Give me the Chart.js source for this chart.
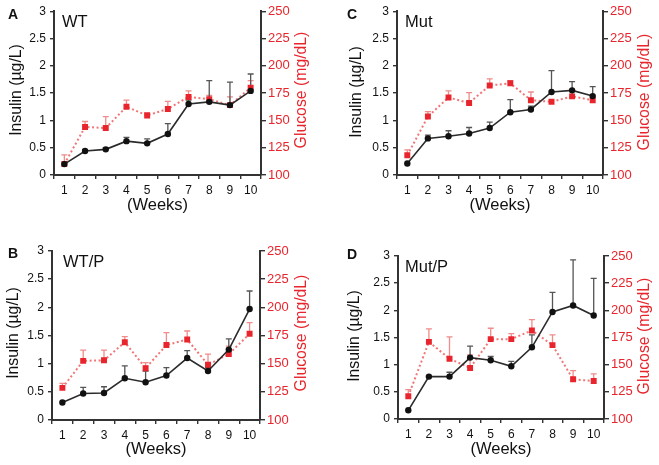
<!DOCTYPE html>
<html>
<head>
<meta charset="utf-8">
<script src="https://cdn.jsdelivr.net/npm/chart.js@4/dist/chart.umd.min.js"></script>
<style>
body{margin:0;background:#fff;width:659px;height:465px;position:relative;overflow:hidden}
canvas{position:absolute}
</style>
</head>
<body>
<canvas id="cA" width="330" height="225" style="left:0;top:0"></canvas>
<canvas id="cC" width="329" height="225" style="left:330px;top:0"></canvas>
<canvas id="cB" width="330" height="233" style="left:0;top:232px"></canvas>
<canvas id="cD" width="329" height="233" style="left:330px;top:232px"></canvas>
<script>
// x categories and tick labels
const weeks=['1','2','3','4','5','6','7','8','9','10']
const insulinTicks=[0,0.5,1,1.5,2,2.5,3]
const glucoseTicks=[100,125,150,175,200,225,250]

// A - WT
const insulinA=[0.2,0.44,0.47,0.62,0.58,0.75,1.3,1.34,1.28,1.54]
const insulinErrA=[0,0.02,0.03,0.07,0.08,0.19,0.07,0.39,0.42,0.31]
const glucoseA=[110,144,143,162.5,154.5,160.5,171.5,169.5,164,180]
const glucoseErrA=[8.5,5,10.5,6,2.5,7,5.5,3.5,7.5,6.5]

// C - Mut
const insulinC=[0.21,0.67,0.71,0.76,0.86,1.15,1.2,1.52,1.55,1.445]
const insulinErrC=[0,0.06,0.1,0.11,0.11,0.23,0.06,0.39,0.16,0.175]
const glucoseC=[118,153.5,171,166,182,184,168.5,167,172,168.5]
const glucoseErrC=[5,4.5,6,9.5,6,2.5,7.5,0,5,3]

// B - WT/P
const insulinB=[0.31,0.47,0.48,0.74,0.67,0.79,1.1,0.87,1.25,1.97]
const insulinErrB=[0,0.11,0.11,0.22,0.2,0.14,0.13,0.06,0.19,0.32]
const glucoseB=[128.5,152.5,153,169,146,166.5,171.5,149,158.5,176.5]
const glucoseErrB=[4,9.5,9,5,5,11,7.5,9.5,7,10]

// D - Mut/P
const insulinD=[0.16,0.78,0.78,1.13,1.08,0.97,1.32,1.97,2.09,1.905]
const insulinErrD=[0,0,0.08,0.21,0.07,0.09,0.23,0.36,0.84,0.685]
const glucoseD=[121,171,155.5,147,173.5,173.5,181.5,168,136.5,135]
const glucoseErrD=[6,12,20,12,10,5,10,9.5,8,6.5]

const RED='#e8242c'
const AXIS='#333'
const FONT='Arial, "Liberation Sans", sans-serif'

// upper error bars, drawn with the dataset's own y scale
const errorBars={
id:'errorBars',
beforeDatasetsDraw(chart){
let ctx=chart.ctx
chart.data.datasets.forEach((ds,i)=>{
let meta=chart.getDatasetMeta(i)
let ys=chart.scales[ds.yAxisID]
ctx.save()
ctx.strokeStyle=ds.errColor
ctx.lineWidth=1.3
meta.data.forEach((pt,j)=>{
let e=ds.err[j]
if(!e) return
let y0=ys.getPixelForValue(ds.data[j])
let y1=ys.getPixelForValue(ds.data[j]+e)
ctx.beginPath()
ctx.moveTo(pt.x,y0)
ctx.lineTo(pt.x,y1)
ctx.moveTo(pt.x-3,y1)
ctx.lineTo(pt.x+3,y1)
ctx.stroke()
})
ctx.restore()
})
}
}

// panel letter, name and axis titles
const panelText={
id:'panelText',
afterDraw(chart,args,o){
let ctx=chart.ctx
let a=chart.chartArea
ctx.save()
ctx.fillStyle='#111'
ctx.textBaseline='middle'
ctx.textAlign='left'
ctx.font='bold 14px '+FONT
ctx.fillText(o.letter,o.letterX,o.letterY)
ctx.font='16.5px '+FONT
ctx.fillText(o.name,o.nameX,o.nameY)
ctx.textAlign='center'
ctx.fillText('(Weeks)',(a.left+a.right)/2,o.weeksY)
ctx.font='15.8px '+FONT
ctx.save()
ctx.translate(o.leftX,o.titleY)
ctx.rotate(-Math.PI/2)
ctx.fillText('Insulin (µg/L)',0,0)
ctx.restore()
ctx.fillStyle=RED
ctx.translate(o.rightX,o.titleY)
ctx.rotate(-Math.PI/2)
ctx.fillText('Glucose (mg/dL)',0,0)
ctx.restore()
}
}

function makePanel(id,insulin,insulinErr,glucose,glucoseErr,p){

new Chart(
document.getElementById(id),
{
type:'line',
data:{
labels:weeks,
datasets:[
{
label:'Glucose',
data:glucose,
err:glucoseErr,
errColor:'#f08c8c',
yAxisID:'yG',
borderColor:'#f27676',
borderWidth:2,
borderDash:[2,2.5],
pointStyle:'rect',
pointRadius:4.2,
pointBackgroundColor:RED,
pointBorderColor:RED,
pointBorderWidth:0,
tension:0,
order:2
},
{
label:'Insulin',
data:insulin,
err:insulinErr,
errColor:'#555',
yAxisID:'yI',
borderColor:'#2b2b2b',
borderWidth:1.6,
pointStyle:'circle',
pointRadius:3.2,
pointBackgroundColor:'#111',
pointBorderColor:'#111',
pointBorderWidth:0,
tension:0,
order:1
}
]
},
options:{
responsive:false,
animation:false,
events:[],
layout:{padding:{top:p.top,left:0,right:0,bottom:0}},
plugins:{
legend:{display:false},
tooltip:{enabled:false},
panelText:p
},
scales:{
x:{
offset:true,
grid:{offset:true,drawOnChartArea:false,tickLength:4,color:AXIS,lineWidth:1.4},
border:{color:AXIS,width:2},
ticks:{color:'#111',font:{size:12,family:FONT},padding:4,maxRotation:0,autoSkip:false},
afterFit(s){s.height=p.bottomH}
},
yI:{
position:'left',
min:0,
max:3,
afterBuildTicks(s){s.ticks=insulinTicks.map(v=>({value:v}))},
grid:{drawOnChartArea:false,tickLength:4,color:AXIS,lineWidth:1.4},
border:{color:AXIS,width:2},
ticks:{color:'#111',font:{size:12,family:FONT},padding:4,callback:v=>String(v)},
afterFit(s){s.width=p.leftW}
},
yG:{
position:'right',
min:100,
max:250,
afterBuildTicks(s){s.ticks=glucoseTicks.map(v=>({value:v}))},
grid:{drawOnChartArea:false,tickLength:5,color:AXIS,lineWidth:1.4},
border:{color:AXIS,width:2},
ticks:{color:RED,font:{size:13,family:FONT},padding:2,callback:v=>String(v)},
afterFit(s){s.width=p.rightW}
}
}
},
plugins:[errorBars,panelText]
})

}

makePanel('cA',insulinA,insulinErrA,glucoseA,glucoseErrA,{
top:11,leftW:54,rightW:69,bottomH:50,
letter:'A',letterX:8,letterY:15,name:'WT',nameX:62,nameY:22,
weeksY:205,leftX:17,rightX:302,titleY:90
})

makePanel('cC',insulinC,insulinErrC,glucoseC,glucoseErrC,{
top:11,leftW:67,rightW:56,bottomH:50,
letter:'C',letterX:17,letterY:15,name:'Mut',nameX:75,nameY:22,
weeksY:205,leftX:27,rightX:315,titleY:92
})

makePanel('cB',insulinB,insulinErrB,glucoseB,glucoseErrB,{
top:19,leftW:52,rightW:70,bottomH:45,
letter:'B',letterX:8,letterY:22,name:'WT/P',nameX:63,nameY:30,
weeksY:217,leftX:14,rightX:302,titleY:101
})

makePanel('cD',insulinD,insulinErrD,glucoseD,glucoseErrD,{
top:24,leftW:68,rightW:55,bottomH:46,
letter:'D',letterX:17,letterY:23,name:'Mut/P',nameX:75,nameY:35,
weeksY:217,leftX:25,rightX:315,titleY:104
})
</script>
</body>
</html>
